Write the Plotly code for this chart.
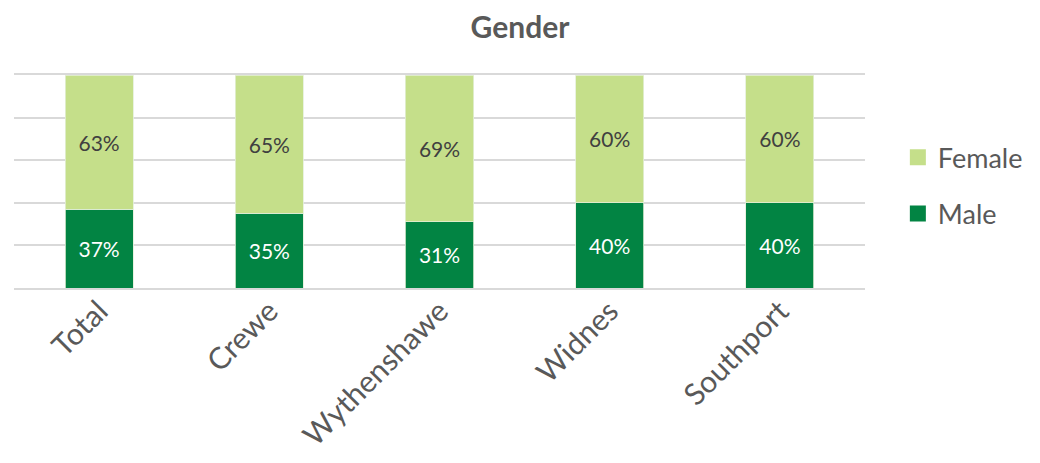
import plotly.graph_objects as go

# dados
sites = ["Total", "Crewe", "Wythenshawe", "Widnes", "Southport"]
male = [37, 35, 31, 40, 40]
female = [63, 65, 69, 60, 60]

MALE_COLOR = "#028443"
FEMALE_COLOR = "#C5DF8A"
TEXT_GREY = "#595959"
GRID = "#D9D9D9"
FONT = "Lato"


def main():
    fig = go.Figure()

    fig.add_trace(go.Bar(
        x=sites, y=male, name="Male", showlegend=False,
        marker=dict(color=MALE_COLOR, line=dict(color="#E4EFD8", width=0.8)),
        texttemplate="%{y}%", textposition="inside", insidetextanchor="middle",
        textangle=0, textfont=dict(family=FONT, size=21, color="white"),
    ))
    fig.add_trace(go.Bar(
        x=sites, y=female, name="Female", showlegend=False,
        marker=dict(color=FEMALE_COLOR, line=dict(color="#E4EFD8", width=0.8)),
        texttemplate="%{y}%", textposition="inside", insidetextanchor="middle",
        textangle=0, textfont=dict(family=FONT, size=21, color="#404040"),
    ))

    # entradas da legenda com quadrados maiores
    for nome, cor in [("Female", FEMALE_COLOR), ("Male", MALE_COLOR)]:
        fig.add_trace(go.Scatter(
            x=[None], y=[None], mode="markers", name=nome, legendgroup=nome,
            marker=dict(symbol="square", size=16, color=cor),
        ))

    # a página tem margem de 8px no body, por isso a figura é 16px menor
    fig.update_layout(
        width=1024, height=447,
        barmode="stack", bargap=0.6,
        plot_bgcolor="white", paper_bgcolor="white",
        margin=dict(l=6, r=167, t=67, b=167),
        font=dict(family=FONT, color=TEXT_GREY),
        title=dict(text="<b>Gender</b>", x=0.5, xanchor="center", y=0.9575,
                   yanchor="middle", font=dict(size=30, color=TEXT_GREY)),
        legend=dict(xref="container", x=0.869, xanchor="left",
                    y=0.48, yanchor="middle",
                    font=dict(size=27, color=TEXT_GREY),
                    traceorder="grouped", tracegroupgap=18,
                    itemsizing="trace"),
    )
    fig.update_xaxes(tickangle=-45, tickfont=dict(size=30, color=TEXT_GREY),
                     ticklabelstandoff=-8,
                     showline=True, mirror=True, linecolor=GRID, linewidth=1.5,
                     ticks="", automargin=False)
    fig.update_yaxes(range=[0, 100], dtick=20, showticklabels=False,
                     showgrid=True, gridcolor=GRID, gridwidth=1.5,
                     zeroline=False, showline=False, automargin=False)

    fig.write_html("out.html")


if __name__ == "__main__":
    main()
